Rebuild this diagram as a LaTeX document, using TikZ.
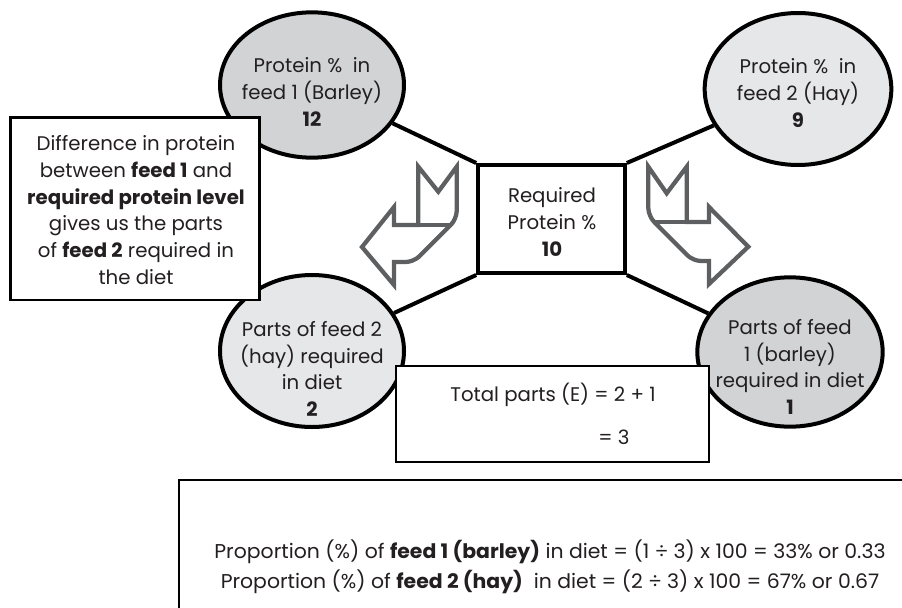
\documentclass[tikz,border=0pt]{standalone}
\usepackage{fontspec}
\setmainfont{Poppins}
\newfontfamily\narrowfont[FakeStretch=1.02]{Poppins}
\usetikzlibrary{shapes.geometric}
\definecolor{darkfill}{HTML}{D1D3D4}
\definecolor{lightfill}{HTML}{E6E7E8}
\definecolor{arrowgray}{HTML}{5E5F61}
\definecolor{inkgray}{HTML}{231F20}

\begin{document}
\begin{tikzpicture}[x=0.75pt, y=-0.75pt,
  blob/.style={ellipse, draw=black, line width=3pt, inner sep=0pt},
  boxed/.style={rectangle, draw=black, fill=white, inner sep=0pt},
  txt/.style={align=center, text=inkgray, font=\fontsize{14.8}{20}\selectfont},
  link/.style={line width=3pt},
  bentarrow/.style={draw=arrowgray, line width=3.2pt, line join=miter}]
\useasboundingbox (0,0) rectangle (902,607);
\clip (0,0) rectangle (902,607);

% the four feed ellipses
\node[blob, fill=darkfill,  minimum width=138pt, minimum height=109pt] (feedA) at (312,85) {};
\node[blob, fill=lightfill, minimum width=140pt, minimum height=114pt] (feedB) at (798,89) {};
\node[blob, fill=lightfill, minimum width=138pt, minimum height=114pt] (partsB) at (312,351) {};
\node[blob, fill=darkfill,  minimum width=139pt, minimum height=112pt] (partsA) at (790,352) {};

% required protein in the middle
\node[boxed, line width=3pt, minimum width=110pt, minimum height=81pt] (req) at (551.5,219) {};
\draw[link] (req.north west) -- (feedA);
\draw[link] (req.north east) -- (feedB);
\draw[link] (req.south west) -- (partsB);
\draw[link] (req.south east) -- (partsA);

\node[txt] (feedAtxt) at (312,92) {Protein \% \ in\\feed 1 (Barley)\\\textbf{12}};
\node[txt] (feedBtxt) at (798,93) {Protein \% \ in\\feed 2 (Hay)\\\textbf{9}};
\node[txt] (partsBtxt) at (312,369) {Parts of feed 2\\(hay) required\\in diet\\\textbf{2}};
\node[txt] (partsAtxt) at (790,367) {Parts of feed\\1 (barley)\\required in diet\\\textbf{1}};
\node[txt] (reqtxt) at (552,222) {Required\\Protein \%\\\textbf{10}};

% bent arrows
\draw[bentarrow] (418.3,166.7) -- (438.3,191.7) -- (456.7,166.7)
  [rounded corners=6pt] -- (456.7,219) -- (413.7,262) [sharp corners] -- (394,262)
  -- (394,285) -- (362,247) -- (394,207) -- (394,225) -- (418.3,225) -- cycle;
\draw[bentarrow] (418.3,225) -- (451,225);
\draw[bentarrow] (648.3,166.7) -- (666.7,193.3) -- (686.7,166.7) -- (686.7,222)
  -- (709,222) -- (709,207) -- (748.3,246.7) -- (709,284) -- (709,261)
  [rounded corners=6pt] -- (693,261) -- (648.3,216) [sharp corners] -- cycle;
\draw[bentarrow] (686.7,222) -- (654,222);

% explanation boxes
\node[boxed, line width=2pt, minimum width=187pt, minimum height=137pt] (diffbox) at (135,208.5) {};
\node[txt] (difftxt) at (136,210) {Difference in protein\\between \textbf{feed 1} and\\\textbf{required protein level}\\gives us the parts\\of \textbf{feed 2} required in\\the diet};

\node[boxed, line width=2pt, minimum width=234.7pt, minimum height=72pt] (totbox) at (552.5,414) {};
\node[txt] (tottxt) at (553,395) {Total parts (E) = 2 + 1};
\node[txt, anchor=west, inner sep=0pt] (toteq) at (598,437) {= 3};

\draw[line width=1.6pt, fill=white] (179,480) rectangle (915,620);
\node[txt, anchor=base, font=\narrowfont\fontsize{15}{20}\selectfont] (propA) at (550,558)
  {Proportion (\%) of \textbf{feed 1 (barley)} in diet = (1 ÷ 3) x 100 = 33\% or 0.33};
\node[txt, anchor=base, font=\narrowfont\fontsize{15}{20}\selectfont] (propB) at (550,588)
  {Proportion (\%) of \textbf{feed 2 (hay)} \ in diet = (2 ÷ 3) x 100 = 67\% or 0.67};
\end{tikzpicture}
\end{document}
